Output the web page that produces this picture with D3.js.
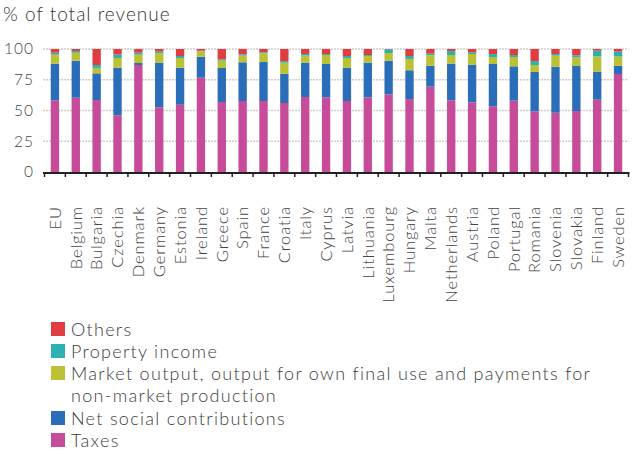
<!DOCTYPE html>
<html>
<head>
<meta charset="utf-8">
<script src="https://cdn.jsdelivr.net/npm/d3@7"></script>
<style>
  body { margin: 0; background: #fff; }
  svg text { font-family: Lato, sans-serif; font-weight: 300; }
</style>
</head>
<body>
<div id="chart"></div>
<script>
const countries = ['EU', 'Belgium', 'Bulgaria', 'Czechia', 'Denmark', 'Germany', 'Estonia', 'Ireland',
  'Greece', 'Spain', 'France', 'Croatia', 'Italy', 'Cyprus', 'Latvia', 'Lithuania', 'Luxembourg',
  'Hungary', 'Malta', 'Netherlands', 'Austria', 'Poland', 'Portugal', 'Romania', 'Slovenia',
  'Slovakia', 'Finland', 'Sweden'];

const taxes = [58.3, 60.4, 58.5, 46.1, 87.0, 52.6, 54.7, 76.7, 56.9, 57.7, 57.7, 56.1, 61.0, 60.7,
  57.7, 60.7, 63.1, 59.3, 69.4, 58.3, 56.6, 53.4, 58.0, 49.3, 48.2, 49.6, 58.8, 79.7];
const netSocial = [29.8, 30.1, 21.7, 38.7, 1.6, 36.3, 30.1, 17.1, 27.7, 31.5, 31.7, 23.8, 27.9, 27.1,
  27.1, 28.2, 27.4, 23.4, 17.0, 29.8, 30.7, 34.4, 27.9, 32.0, 37.4, 36.8, 22.8, 6.7];
const marketOutput = [7.3, 6.5, 4.4, 7.9, 6.8, 7.8, 7.9, 4.3, 5.9, 5.4, 7.1, 9.0, 5.7, 7.3,
  7.9, 5.4, 6.2, 9.2, 8.5, 7.0, 8.6, 5.7, 7.6, 5.7, 9.0, 6.8, 12.4, 7.4];
const propertyIncome = [1.6, 1.4, 2.4, 2.7, 1.6, 1.4, 1.6, 0.5, 1.1, 1.1, 0.8, 1.3, 1.3, 0.8,
  1.6, 0.8, 3.0, 2.4, 1.3, 3.3, 1.4, 2.4, 1.6, 3.2, 1.3, 1.7, 4.6, 4.0];
const others = [3.0, 1.6, 13.0, 4.6, 3.0, 1.9, 5.7, 1.4, 8.4, 4.3, 2.7, 9.8, 4.1, 4.1,
  5.7, 4.9, 0.3, 5.7, 3.8, 1.6, 2.7, 4.1, 4.9, 9.8, 4.1, 5.1, 1.4, 2.2];

const yTicks = [0, 25, 50, 75, 100];

const seriesKeys = ['taxes', 'netSocial', 'marketOutput', 'propertyIncome', 'others'];
const seriesNames = {
  taxes: 'Taxes',
  netSocial: 'Net social contributions',
  marketOutput: ['Market output, output for own final use and payments for', 'non-market production'],
  propertyIncome: 'Property income',
  others: 'Others'
};
const colors = {
  taxes: '#c64b98',
  netSocial: '#2a6db8',
  marketOutput: '#bac133',
  propertyIncome: '#2bb2b0',
  others: '#e03d42'
};

const width = 637, height = 452;
const margin = {left: 44.5, right: 8.5, top: 49, bottom: 280};

const rows = countries.map((c, i) => ({
  country: c,
  taxes: taxes[i],
  netSocial: netSocial[i],
  marketOutput: marketOutput[i],
  propertyIncome: propertyIncome[i],
  others: others[i]
}));

const svg = d3.select('#chart').append('svg')
  .attr('width', width)
  .attr('height', height);

const x = d3.scaleBand()
  .domain(countries)
  .range([margin.left, width - margin.right])
  .paddingInner(0.6)
  .paddingOuter(0.3);

const y = d3.scaleLinear()
  .domain([0, 100])
  .range([172, margin.top]);

svg.append('text')
  .attr('x', 3)
  .attr('y', 21)
  .attr('fill', '#333')
  .style('font-size', '19px')
  .style('letter-spacing', '1px')
  .text('% of total revenue');

// grid
svg.append('g')
  .selectAll('line')
  .data(yTicks.filter(d => d > 0))
  .join('line')
  .attr('x1', 43)
  .attr('x2', width - margin.right)
  .attr('y1', d => y(d))
  .attr('y2', d => y(d))
  .attr('stroke', '#cfcfcf')
  .attr('stroke-width', 1.5)
  .attr('stroke-dasharray', '2,1');

const yAxis = svg.append('g')
  .attr('transform', 'translate(34,0)')
  .call(d3.axisLeft(y).tickValues(yTicks).tickSize(0).tickPadding(0));
yAxis.select('.domain').remove();
yAxis.selectAll('text')
  .attr('fill', '#444')
  .style('font-size', '15.5px')
  .style('letter-spacing', '1px');

const stack = d3.stack().keys(seriesKeys);

svg.append('g')
  .selectAll('g')
  .data(stack(rows))
  .join('g')
  .attr('fill', d => colors[d.key])
  .selectAll('rect')
  .data(d => d)
  .join('rect')
  .attr('x', d => x(d.data.country))
  .attr('width', x.bandwidth())
  .attr('y', d => y(d[1]))
  .attr('height', d => y(d[0]) - y(d[1]));

// x axis with ticks between bars
const xAxis = svg.append('g')
  .attr('transform', 'translate(0,173)');
xAxis.append('line')
  .attr('x1', 43)
  .attr('x2', width - margin.right + 1)
  .attr('stroke', '#222')
  .attr('stroke-width', 2);
const step = x.step();
xAxis.selectAll('.tick')
  .data(countries.concat(['end']))
  .join('line')
  .attr('class', 'tick')
  .attr('x1', (d, i) => margin.left + i * step)
  .attr('x2', (d, i) => margin.left + i * step)
  .attr('y1', 0)
  .attr('y2', 4)
  .attr('stroke', '#222')
  .attr('stroke-width', 1.5);

xAxis.selectAll('.label')
  .data(countries)
  .join('text')
  .attr('class', 'label')
  .attr('transform', d => `translate(${x(d) + x.bandwidth() / 2}, 33) rotate(-90)`)
  .attr('text-anchor', 'end')
  .attr('dy', '0.35em')
  .attr('fill', '#444')
  .style('font-size', '16.5px')
  .style('letter-spacing', '0.9px')
  .text(d => d);

// legend
const legendOrder = ['others', 'propertyIncome', 'marketOutput', 'netSocial', 'taxes'];
const legendY = {others: 322, propertyIncome: 344, marketOutput: 366, netSocial: 411, taxes: 433};

const legend = svg.append('g');
const item = legend.selectAll('g')
  .data(legendOrder)
  .join('g')
  .attr('transform', d => `translate(51, ${legendY[d]})`);
item.append('rect')
  .attr('width', 14)
  .attr('height', 14)
  .attr('fill', d => colors[d]);
item.append('text')
  .attr('x', 20)
  .attr('y', 13.5)
  .attr('fill', '#3c3c3c')
  .style('font-size', '18px')
  .style('letter-spacing', '1.3px')
  .each(function (d) {
    const lines = [].concat(seriesNames[d]);
    d3.select(this).selectAll('tspan')
      .data(lines)
      .join('tspan')
      .attr('x', 20)
      .attr('dy', (l, i) => i ? 22 : 0)
      .text(l => l);
  });
</script>
</body>
</html>
